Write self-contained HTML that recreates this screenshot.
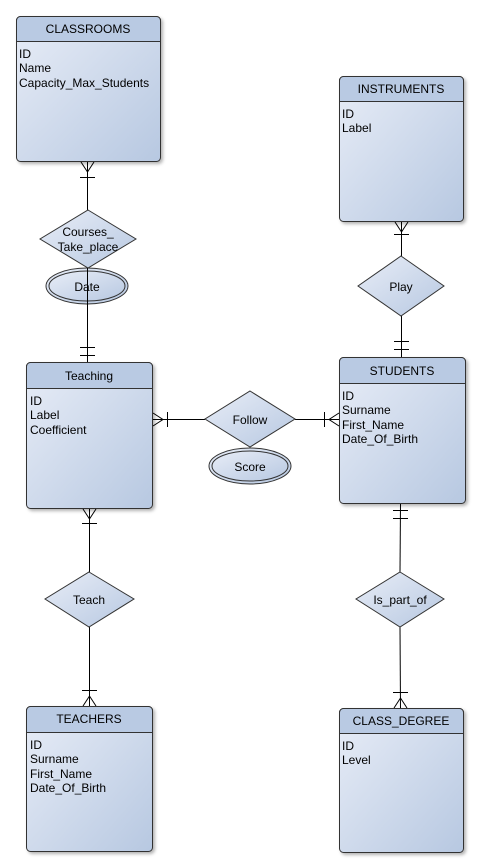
<!DOCTYPE html>
<html><head><meta charset="utf-8"><style>
html,body{margin:0;padding:0;background:#fff;}
svg{display:block;font-family:"Liberation Sans",sans-serif;}
</style></head><body>
<svg width="480" height="868" viewBox="0 0 480 868" xmlns="http://www.w3.org/2000/svg">
<defs>
<linearGradient id="g" x1="0" y1="0" x2="1" y2="1">
<stop offset="0" stop-color="#e8edf7"/><stop offset="1" stop-color="#b7c8e1"/>
</linearGradient>
<filter id="sh" x="-10%" y="-10%" width="130%" height="130%"><feDropShadow dx="2" dy="2" stdDeviation="1.5" flood-color="#000" flood-opacity="0.3"/></filter>
</defs>
<g stroke="#000" stroke-width="1" fill="none">
<!-- classrooms - courses -->
<line x1="87.5" y1="162" x2="87.5" y2="210"/>
<path d="M81 162 L87.5 172 L94 162"/><line x1="80" y1="177.5" x2="95" y2="177.5"/>
<line x1="87.5" y1="268" x2="87.5" y2="362"/>
<line x1="80" y1="347.5" x2="95" y2="347.5"/><line x1="80" y1="355.5" x2="95" y2="355.5"/>
<!-- teaching - teach -->
<line x1="89.5" y1="509" x2="89.5" y2="572"/>
<path d="M83 509 L89.5 519 L96 509"/><line x1="82" y1="523.5" x2="97" y2="523.5"/>
<line x1="89.5" y1="627" x2="89.5" y2="706"/>
<line x1="82" y1="690.5" x2="97" y2="690.5"/><path d="M83 706 L89.5 696 L96 706"/>
<!-- instruments - play -->
<line x1="401.5" y1="222" x2="401.5" y2="256"/>
<path d="M395 222 L401.5 232 L408 222"/><line x1="394" y1="234.5" x2="409" y2="234.5"/>
<line x1="401.5" y1="316" x2="401.5" y2="357"/>
<line x1="394" y1="341.5" x2="409" y2="341.5"/><line x1="394" y1="349.5" x2="409" y2="349.5"/>
<!-- students - is_part_of -->
<line x1="400.5" y1="504" x2="400" y2="572"/>
<line x1="393" y1="510.5" x2="408" y2="510.5"/><line x1="393" y1="518.5" x2="408" y2="518.5"/>
<line x1="400" y1="627" x2="400.5" y2="708"/>
<line x1="393" y1="692.5" x2="408" y2="692.5"/><path d="M394 708 L400.5 698 L407 708"/>
<!-- follow -->
<line x1="153" y1="419.5" x2="205" y2="419.5"/>
<path d="M153 413 L163 419.5 L153 426"/><line x1="167.5" y1="412" x2="167.5" y2="427"/>
<line x1="295" y1="419.5" x2="339" y2="419.5"/>
<line x1="324.5" y1="412" x2="324.5" y2="427"/><path d="M339 413 L329 419.5 L339 426"/>
</g>

<g stroke="#333" stroke-width="1" fill="url(#g)">
<polygon points="88,210 136,239 88,268 40,239"/>
<polygon points="401,256 444,286 401,316 358,286"/>
<polygon points="250,391 295,419 250,447 205,419"/>
<polygon points="89,572 134,599 89,627 45,599"/>
<polygon points="400,572 444,599 400,627 356,599"/>
<ellipse cx="87" cy="286" rx="41" ry="18"/><ellipse cx="87" cy="286" rx="38" ry="15"/>
<ellipse cx="250" cy="466" rx="41" ry="18"/><ellipse cx="250" cy="466" rx="38" ry="15"/>
</g>
<line x1="87.5" y1="268" x2="87.5" y2="310" stroke="#000"/>

<g font-size="12" fill="#000" text-anchor="middle">
<text x="88" y="236">Courses_</text><text x="88" y="251">Take_place</text>
<text x="87" y="291">Date</text>
<text x="401" y="291">Play</text>
<text x="250" y="424">Follow</text>
<text x="250" y="471">Score</text>
<text x="89" y="604">Teach</text>
<text x="400" y="604">Is_part_of</text>
</g>

<g font-size="12">
<!-- entity template -->
<g filter="url(#sh)">
<rect x="16.5" y="16.5" width="144" height="145" rx="4" fill="url(#g)" stroke="#333"/>
<rect x="339.5" y="76.5" width="124" height="145" rx="4" fill="url(#g)" stroke="#333"/>
<rect x="26.5" y="362.5" width="126" height="146" rx="4" fill="url(#g)" stroke="#333"/>
<rect x="339.5" y="357.5" width="126" height="146" rx="4" fill="url(#g)" stroke="#333"/>
<rect x="26.5" y="706.5" width="126" height="145" rx="4" fill="url(#g)" stroke="#333"/>
<rect x="339.5" y="708.5" width="124" height="144" rx="4" fill="url(#g)" stroke="#333"/>
</g>
<g fill="#b9cae3" stroke="#333">
<path d="M16.5 41.5 V20.5 a4 4 0 0 1 4 -4 H156.5 a4 4 0 0 1 4 4 V41.5 Z"/>
<path d="M339.5 101.5 V80.5 a4 4 0 0 1 4 -4 H459.5 a4 4 0 0 1 4 4 V101.5 Z"/>
<path d="M26.5 388.5 V366.5 a4 4 0 0 1 4 -4 H148.5 a4 4 0 0 1 4 4 V388.5 Z"/>
<path d="M339.5 383.5 V361.5 a4 4 0 0 1 4 -4 H461.5 a4 4 0 0 1 4 4 V383.5 Z"/>
<path d="M26.5 732.5 V710.5 a4 4 0 0 1 4 -4 H148.5 a4 4 0 0 1 4 4 V732.5 Z"/>
<path d="M339.5 733.5 V712.5 a4 4 0 0 1 4 -4 H459.5 a4 4 0 0 1 4 4 V733.5 Z"/>
</g>
<g text-anchor="middle">
<text x="88" y="33">CLASSROOMS</text>
<text x="401" y="93">INSTRUMENTS</text>
<text x="89" y="380">Teaching</text>
<text x="402" y="375">STUDENTS</text>
<text x="89" y="723">TEACHERS</text>
<text x="401" y="725">CLASS_DEGREE</text>
</g>
<text x="19" y="58">ID</text><text x="19" y="72">Name</text><text x="19" y="87">Capacity_Max_Students</text>
<text x="342" y="118">ID</text><text x="342" y="132">Label</text>
<text x="30" y="405">ID</text><text x="30" y="419">Label</text><text x="30" y="434">Coefficient</text>
<text x="342" y="400">ID</text><text x="342" y="414">Surname</text><text x="342" y="429">First_Name</text><text x="342" y="443">Date_Of_Birth</text>
<text x="30" y="749">ID</text><text x="30" y="763">Surname</text><text x="30" y="778">First_Name</text><text x="30" y="792">Date_Of_Birth</text>
<text x="342" y="750">ID</text><text x="342" y="764">Level</text>
</g>
</svg>
</body></html>
